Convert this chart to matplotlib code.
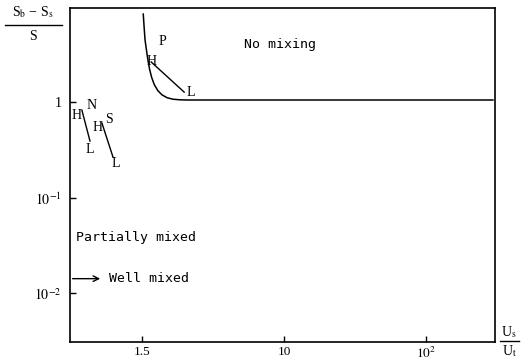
import numpy as np
import matplotlib
matplotlib.use('Agg')
import matplotlib.pyplot as plt
from matplotlib.lines import Line2D

plt.rcParams['font.family'] = 'Liberation Serif'
plt.rcParams['mathtext.fontset'] = 'stix'

# boundary between "no mixing" and "partially mixed"
bound_x = [1.02, 1.035, 1.05, 1.08, 1.10, 1.13, 1.17, 1.22, 1.29, 1.38, 1.50, 1.65, 1.85, 2.1, 296]
bound_y = [8.3, 6.0, 4.46, 3.3, 2.75, 2.2, 1.8, 1.52, 1.32, 1.19, 1.11, 1.07, 1.055, 1.05, 1.05]

# H-L segments (estuaries P, N, S)
seg_names = ['P', 'N', 'S']
seg_x = [[1.16, 1.98], [0.377, 0.43], [0.522, 0.625]]
seg_y = [[2.62, 1.27], [0.824, 0.391], [0.603, 0.265]]

xtick_vals = [1, 10, 100]
xtick_labels = ['1.5', '10', '$10^2$']
ytick_vals = [1, 0.1, 0.01]
ytick_labels = ['1', '$10^{-1}$', '$10^{-2}$']

fig = plt.figure(figsize=(5.21, 3.64), dpi=100)
ax = fig.add_axes([0.134, 0.060, 0.816, 0.918])
ax.set_xscale('log')
ax.set_yscale('log')
ax.set_xlim(0.31, 306)
ax.set_ylim(0.0031, 9.6)

ax.plot(bound_x, bound_y, color='black', lw=1.1)
for xs, ys in zip(seg_x, seg_y):
    ax.plot(xs, ys, color='black', lw=1.0)

# labels at segment ends
fs = 10
ax.text(seg_x[0][0], seg_y[0][0], 'H', ha='center', va='center', fontsize=fs)
ax.text(seg_x[0][1] * 1.12, seg_y[0][1], 'L', ha='center', va='center', fontsize=fs)
ax.text(1.4, 4.3, 'P', ha='center', va='center', fontsize=fs)
ax.text(seg_x[1][0] * 0.92, 0.72, 'H', ha='center', va='center', fontsize=fs)
ax.text(seg_x[1][1] * 0.99, 0.32, 'L', ha='center', va='center', fontsize=fs)
ax.text(0.44, 0.93, 'N', ha='center', va='center', fontsize=fs)
ax.text(seg_x[2][0] * 0.93, 0.54, 'H', ha='center', va='center', fontsize=fs)
ax.text(seg_x[2][1] * 1.05, 0.23, 'L', ha='center', va='center', fontsize=fs)
ax.text(0.585, 0.65, 'S', ha='center', va='center', fontsize=fs)

ax.text(0.494, 0.892, 'No mixing', transform=ax.transAxes, ha='center', va='center',
        fontsize=9.5, family='DejaVu Sans Mono')
ax.text(0.155, 0.314, 'Partially mixed', transform=ax.transAxes, ha='center', va='center',
        fontsize=9.5, family='DejaVu Sans Mono')
ax.text(0.092, 0.19, 'Well mixed', transform=ax.transAxes, ha='left', va='center',
        fontsize=9.5, family='DejaVu Sans Mono')
ax.annotate('', xy=(0.078, 0.19), xytext=(0.0, 0.19), xycoords='axes fraction',
            arrowprops=dict(arrowstyle='->', color='black', lw=1.0))

ax.set_xticks(xtick_vals)
ax.set_xticklabels(xtick_labels, fontsize=9.5)
ax.set_yticks(ytick_vals)
ax.set_yticklabels(ytick_labels, fontsize=10)
ax.minorticks_off()
ax.tick_params(direction='in', length=4, width=1)
ax.tick_params(axis='x', pad=3)
ax.tick_params(axis='y', pad=6)
for sp in ax.spines.values():
    sp.set_linewidth(1.2)

# axis labels as fractions
fig.text(33 / 521, 1 - 12 / 364, r'S$_\mathrm{b}$ − S$_\mathrm{s}$', ha='center', va='center', fontsize=10)
fig.add_artist(Line2D([5 / 521, 62 / 521], [1 - 25 / 364, 1 - 25 / 364], color='black', lw=1.0))
fig.text(33 / 521, 1 - 37 / 364, 'S', ha='center', va='center', fontsize=10)

fig.text(509 / 521, 1 - 332 / 364, r'U$_\mathrm{s}$', ha='center', va='center', fontsize=10)
fig.add_artist(Line2D([500 / 521, 519 / 521], [1 - 341 / 364, 1 - 341 / 364], color='black', lw=1.0))
fig.text(509 / 521, 1 - 351 / 364, r'U$_\mathrm{t}$', ha='center', va='center', fontsize=10)

fig.savefig('out.png', dpi=100)
